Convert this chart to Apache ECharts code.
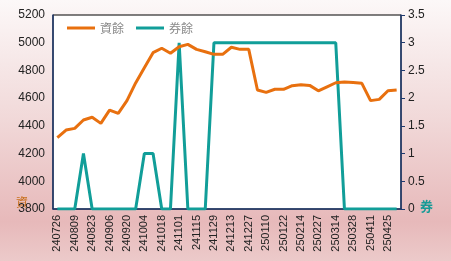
<!DOCTYPE html>
<html>
<head>
<meta charset="utf-8">
<script src="https://cdn.jsdelivr.net/npm/echarts@6/dist/echarts.min.js"></script>
<style>
html,body{margin:0;padding:0;background:#fff;}
#c{width:451px;height:261px;}
</style>
</head>
<body>
<div id="c"></div>
<script>
var categories = ['240726','240802','240809','240816','240823','240830','240906','240913','240920','240927',
  '241004','241011','241018','241025','241101','241108','241115','241122','241129','241206',
  '241213','241220','241227','250103','250110','250117','250122','250207','250214','250221',
  '250227','250307','250314','250321','250328','250403','250411','250418','250425','250430'];
var ziYu = [4315,4370,4382,4442,4462,4418,4514,4490,4582,4710,
  4820,4928,4960,4924,4971,4988,4952,4935,4916,4916,
  4967,4952,4952,4659,4642,4664,4664,4690,4697,4692,
  4653,4682,4711,4716,4713,4707,4582,4591,4653,4659];
var quanYu = [0,0,0,1,0,0,0,0,0,0,
  1,1,0,0,3,0,0,0,3,3,
  3,3,3,3,3,3,3,3,3,3,
  3,3,3,0,0,0,0,0,0,0];
var leftTicks = {min:3800, max:5200, interval:200};
var rightTicks = {min:0, max:3.5, interval:0.5};

var chart = echarts.init(document.getElementById('c'), null, {renderer:'canvas'});
var axisFont = {fontFamily:'Liberation Sans, Arial, sans-serif', fontSize:11, color:'#222'};
chart.setOption({
  animation:false,
  backgroundColor:{type:'linear',x:0,y:0,x2:0,y2:1,colorStops:[
    {offset:0,color:'#fcf8f8'},{offset:0.45,color:'#f1d9d9'},{offset:0.85,color:'#e7b9ba'},{offset:1,color:'#eccaca'}]},
  grid:{left:53,right:50,top:15,bottom:52,show:true,backgroundColor:'#fff',borderColor:'#000',borderWidth:1},
  legend:{left:62,top:17,itemWidth:28,itemHeight:3,itemGap:12,icon:'rect',
    textStyle:{color:'#8a8a8a',fontSize:12,fontFamily:'Noto Sans CJK TC, sans-serif'},
    data:['資餘','券餘']},
  xAxis:{type:'category',data:categories,boundaryGap:true,
    axisLine:{lineStyle:{color:'#1f3a6e',width:1.5}},axisTick:{show:false},
    axisLabel:Object.assign({rotate:90,interval:1,margin:6},axisFont)},
  yAxis:[
    {type:'value',min:leftTicks.min,max:leftTicks.max,interval:leftTicks.interval,
     splitLine:{show:false},axisLine:{show:true,lineStyle:{color:'#1f3a6e',width:1.5}},axisTick:{show:false},
     axisLabel:Object.assign({margin:8,formatter:function(v){return String(v);}},axisFont,{fontSize:12})},
    {type:'value',min:rightTicks.min,max:rightTicks.max,interval:rightTicks.interval,position:'right',
     splitLine:{show:false},axisLine:{show:true,lineStyle:{color:'#1f3a6e',width:1.5}},
     axisTick:{show:true,inside:false,length:4,lineStyle:{color:'#1f3a6e'}},
     axisLabel:Object.assign({margin:7,formatter:function(v){return String(v);}},axisFont,{fontSize:12})}
  ],
  series:[
    {name:'資餘',type:'line',data:ziYu,yAxisIndex:0,symbol:'none',z:3,
     lineStyle:{color:'#e8700f',width:3},itemStyle:{color:'#e8700f'}},
    {name:'券餘',type:'line',data:quanYu,yAxisIndex:1,symbol:'none',z:2,
     lineStyle:{color:'#119e99',width:3},itemStyle:{color:'#119e99'}}
  ],
  graphic:[
    {type:'text',left:16,top:196,style:{text:'資',fill:'#c8701e',font:'12px "Noto Sans CJK TC"'}},
    {type:'text',left:420,top:200,style:{text:'券',fill:'#179a96',font:'bold 13px "Noto Sans CJK TC"'}}
  ]
});
</script>
</body>
</html>
